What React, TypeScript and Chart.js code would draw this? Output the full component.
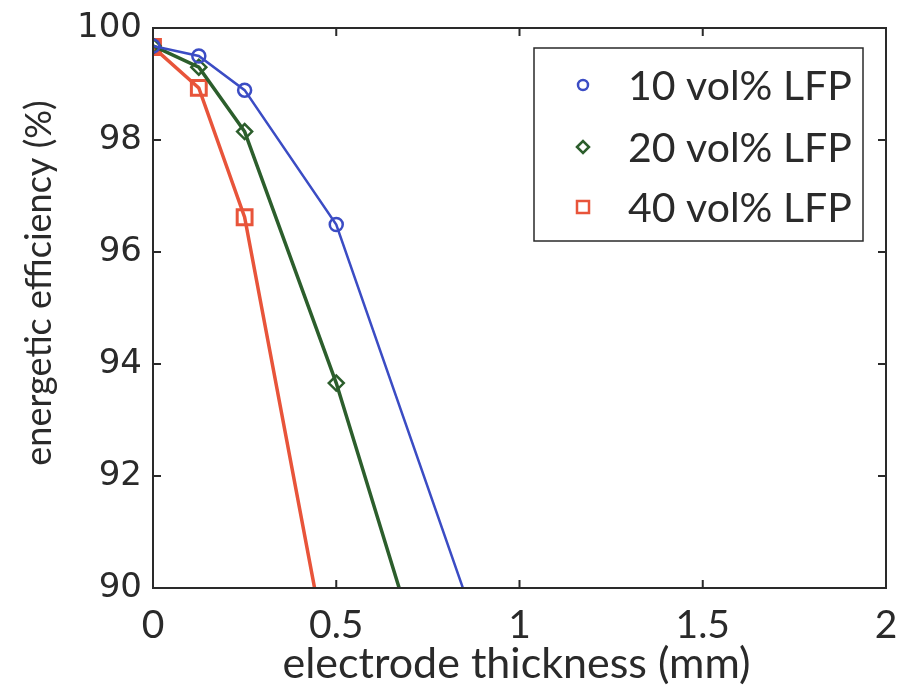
import React, { useEffect, useRef } from "react";
import { Chart, registerables } from "chart.js";

Chart.register(...registerables);

const X_VALUES_10 = [0, 0.125, 0.25, 0.5, 1];
const Y_VALUES_10 = [99.68, 99.5, 98.89, 96.49, 87.1];
const X_VALUES_20 = [0, 0.125, 0.25, 0.5, 1];
const Y_VALUES_20 = [99.68, 99.3, 98.15, 93.66, 83.0];
const X_VALUES_40 = [0, 0.125, 0.25, 0.5];
const Y_VALUES_40 = [99.66, 98.93, 96.62, 87.95];

const SERIES_LABELS = ["10 vol% LFP", "20 vol% LFP", "40 vol% LFP"];
const X_TICKS = [0, 0.5, 1, 1.5, 2];
const X_TICK_LABELS = ["0", "0.5", "1", "1.5", "2"];
const Y_TICKS = [90, 92, 94, 96, 98, 100];
const Y_TICK_LABELS = ["90", "92", "94", "96", "98", "100"];
const X_TITLE = "electrode thickness (mm)";
const Y_TITLE = "energetic efficiency (%)";

const BLUE = "#3b4cc4";
const GREEN = "#2c5e2c";
const RED = "#e8543a";
const INK = "#2a2a2a";
const SANS = "Lato, 'Open Sans', sans-serif";

function toPoints(xs: number[], ys: number[]) {
  return xs.map((x, i) => ({ x, y: ys[i] }));
}

function drawMarker(ctx: CanvasRenderingContext2D, style: string, x: number, y: number, r: number) {
  ctx.beginPath();
  if (style === "circle") {
    ctx.arc(x, y, r, 0, Math.PI * 2);
  } else if (style === "rectRot") {
    ctx.moveTo(x - r, y);
    ctx.lineTo(x, y - r);
    ctx.lineTo(x + r, y);
    ctx.lineTo(x, y + r);
    ctx.closePath();
  } else {
    ctx.rect(x - r, y - r, 2 * r, 2 * r);
  }
  ctx.stroke();
}

const framePlugin = {
  id: "matlabFrame",
  afterDatasetsDraw(chart: any) {
    const { ctx, chartArea } = chart;
    const { left, right, top, bottom } = chartArea;
    const xs = chart.scales.x;
    const ys = chart.scales.y;
    ctx.save();
    ctx.strokeStyle = INK;
    ctx.lineWidth = 2;
    ctx.strokeRect(left, top, right - left, bottom - top);
    const tl = 8;
    ctx.beginPath();
    X_TICKS.forEach((v) => {
      const px = xs.getPixelForValue(v);
      ctx.moveTo(px, bottom);
      ctx.lineTo(px, bottom - tl);
      ctx.moveTo(px, top);
      ctx.lineTo(px, top + tl);
    });
    Y_TICKS.forEach((v) => {
      const py = ys.getPixelForValue(v);
      ctx.moveTo(left, py);
      ctx.lineTo(left + tl, py);
      ctx.moveTo(right, py);
      ctx.lineTo(right - tl, py);
    });
    ctx.stroke();

    // axis titles
    ctx.fillStyle = INK;
    ctx.font = `43px ${SANS}`;
    ctx.textAlign = "center";
    ctx.textBaseline = "alphabetic";
    ctx.fillText(X_TITLE, (left + right) / 2 - 3, 678);
    ctx.save();
    ctx.translate(51, (top + bottom) / 2 - 25);
    ctx.rotate(-Math.PI / 2);
    ctx.font = `36px ${SANS}`;
    ctx.fillText(Y_TITLE, 0, 0);
    ctx.restore();

    // legend
    const bw = 329;
    const bh = 193;
    const bx = right - 23 - bw;
    const by = top + 20;
    ctx.fillStyle = "#ffffff";
    ctx.fillRect(bx, by, bw, bh);
    ctx.lineWidth = 1.5;
    ctx.strokeStyle = INK;
    ctx.strokeRect(bx, by, bw, bh);
    const styles = ["circle", "rectRot", "rect"];
    const colors = [BLUE, GREEN, RED];
    const sizes = [5, 6, 6];
    const rowY = [by + 37, by + 99, by + 159];
    ctx.font = `41px ${SANS}`;
    ctx.textAlign = "left";
    ctx.textBaseline = "middle";
    SERIES_LABELS.forEach((lab, i) => {
      ctx.strokeStyle = colors[i];
      ctx.lineWidth = 2.5;
      drawMarker(ctx, styles[i], bx + 49, rowY[i], sizes[i]);
      ctx.fillStyle = INK;
      ctx.fillText(lab, bx + 94, rowY[i] + 2);
    });
    ctx.restore();
  },
};

export default function App() {
  const ref = useRef<HTMLCanvasElement | null>(null);
  useEffect(() => {
    if (!ref.current) return;
    const chart = new Chart(ref.current, {
      type: "line",
      data: {
        datasets: [
          {
            label: SERIES_LABELS[0],
            data: toPoints(X_VALUES_10, Y_VALUES_10),
            borderColor: BLUE,
            backgroundColor: "rgba(0,0,0,0)",
            borderWidth: 2.5,
            pointStyle: "circle",
            pointRadius: 6.5,
            pointBorderWidth: 2.5,
            pointBorderColor: BLUE,
            pointBackgroundColor: "rgba(0,0,0,0)",
          },
          {
            label: SERIES_LABELS[1],
            data: toPoints(X_VALUES_20, Y_VALUES_20),
            borderColor: GREEN,
            backgroundColor: "rgba(0,0,0,0)",
            borderWidth: 3.5,
            pointStyle: "rectRot",
            pointRadius: 7.5,
            pointBorderWidth: 2.5,
            pointBorderColor: GREEN,
            pointBackgroundColor: "rgba(0,0,0,0)",
          },
          {
            label: SERIES_LABELS[2],
            data: toPoints(X_VALUES_40, Y_VALUES_40),
            borderColor: RED,
            backgroundColor: "rgba(0,0,0,0)",
            borderWidth: 3.5,
            pointStyle: "rect",
            pointRadius: 10.5,
            pointBorderWidth: 3,
            pointBorderColor: RED,
            pointBackgroundColor: "rgba(0,0,0,0)",
          },
        ],
      },
      options: {
        animation: false,
        responsive: false,
        events: [],
        layout: { padding: { top: 28, right: 17, left: 0, bottom: 0 } },
        plugins: { legend: { display: false }, tooltip: { enabled: false } },
        scales: {
          x: {
            type: "linear",
            min: 0,
            max: 2,
            afterFit: (s: any) => {
              s.height = 106;
              s.paddingRight = 0;
              s.paddingLeft = 0;
            },
            afterBuildTicks: (s: any) => {
              s.ticks = X_TICKS.map((v) => ({ value: v }));
            },
            grid: { display: false, drawTicks: false },
            border: { display: false },
            ticks: {
              padding: 14,
              color: INK,
              font: { family: SANS, size: 39 },
              maxRotation: 0,
              autoSkip: false,
              callback: (v: any) => {
                const i = X_TICKS.indexOf(Number(v));
                return i >= 0 ? X_TICK_LABELS[i] : "";
              },
            },
          },
          y: {
            type: "linear",
            min: 90,
            max: 100,
            afterFit: (s: any) => {
              s.width = 153;
              s.paddingTop = 0;
              s.paddingBottom = 0;
            },
            afterBuildTicks: (s: any) => {
              s.ticks = Y_TICKS.map((v) => ({ value: v }));
            },
            grid: { display: false, drawTicks: false },
            border: { display: false },
            ticks: {
              padding: 11,
              color: INK,
              font: { family: "'DejaVu Sans', sans-serif", size: 34 },
              autoSkip: false,
              callback: (v: any) => {
                const i = Y_TICKS.indexOf(Number(v));
                return i >= 0 ? Y_TICK_LABELS[i] : "";
              },
            },
          },
        },
      },
      plugins: [framePlugin],
    });
    return () => chart.destroy();
  }, []);
  return (
    <div style={{ position: "absolute", left: 0, top: 0, width: 903, height: 694, background: "#fff" }}>
      <canvas ref={ref} width={903} height={694} style={{ width: 903, height: 694 }} />
    </div>
  );
}
